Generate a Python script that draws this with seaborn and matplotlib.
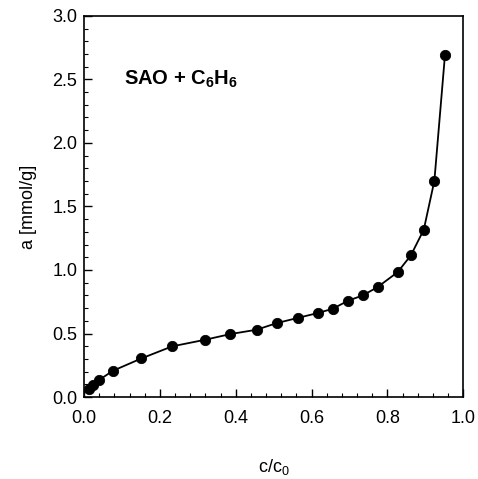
import matplotlib
matplotlib.use("Agg")
import matplotlib.pyplot as plt
from matplotlib.ticker import MultipleLocator
import seaborn as sns
import pandas as pd

# adsorption isotherm SAO + C6H6
rel_conc = [0.014, 0.023, 0.040, 0.076, 0.151, 0.232, 0.319, 0.386, 0.455,
            0.508, 0.565, 0.616, 0.656, 0.696, 0.735, 0.774, 0.827, 0.862,
            0.896, 0.924, 0.952]
adsorbed = [0.063, 0.097, 0.136, 0.207, 0.304, 0.399, 0.451, 0.496, 0.530,
            0.582, 0.624, 0.661, 0.695, 0.758, 0.800, 0.865, 0.983, 1.115,
            1.317, 1.702, 2.693]

df = pd.DataFrame({"c": rel_conc, "a": adsorbed})

sns.set_style("ticks")
plt.rcParams["font.family"] = ["Liberation Sans", "DejaVu Sans"]
plt.rcParams["mathtext.default"] = "regular"
plt.rcParams["text.color"] = "black"
plt.rcParams["axes.labelcolor"] = "black"

fig = plt.figure(figsize=(4.78, 4.79), dpi=100)
ax = fig.add_axes([0.176, 0.171, 0.793, 0.796])

sns.lineplot(data=df, x="c", y="a", color="black", lw=1.3, ax=ax, sort=True)
sns.scatterplot(data=df, x="c", y="a", color="black", s=55, edgecolor="black",
                zorder=3, ax=ax)

ax.set_xlim(0, 1.0)
ax.set_ylim(0, 3.0)
ax.xaxis.set_major_locator(MultipleLocator(0.2))
ax.xaxis.set_minor_locator(MultipleLocator(0.04))
ax.yaxis.set_major_locator(MultipleLocator(0.5))
ax.yaxis.set_minor_locator(MultipleLocator(0.1))
ax.xaxis.set_major_formatter(plt.FormatStrFormatter("%.1f"))
ax.yaxis.set_major_formatter(plt.FormatStrFormatter("%.1f"))
ax.tick_params(which="both", direction="in", top=False, right=False,
               colors="black", labelsize=13)
ax.tick_params(which="major", length=6, width=1)
ax.tick_params(which="minor", length=3, width=0.8)
ax.tick_params(axis="x", which="major", pad=9)
ax.tick_params(axis="y", which="major", pad=5)
for sp in ax.spines.values():
    sp.set_color("black")
    sp.set_linewidth(1.2)

ax.set_xlabel("c/c$_0$", fontsize=13, labelpad=22)
ax.set_ylabel("a [mmol/g]", fontsize=13, labelpad=11)

ax.text(0.106, 2.5, "SAO + C$_6$H$_6$", fontsize=14.5, fontweight="bold",
        va="center", ha="left")

fig.savefig("out.png", dpi=100)
